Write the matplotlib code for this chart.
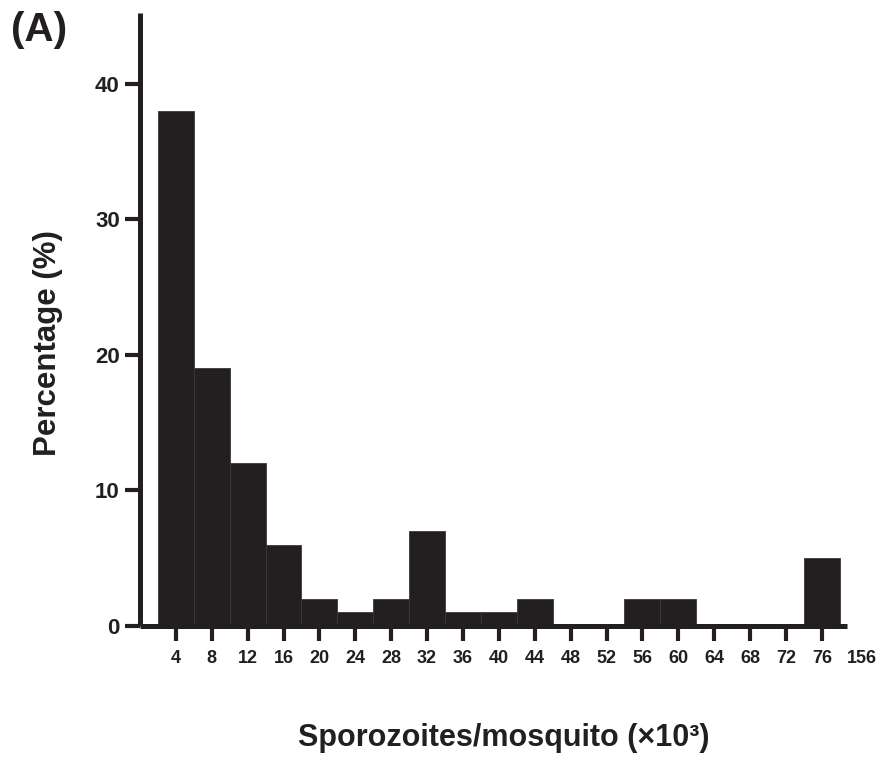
import matplotlib
matplotlib.use("Agg")
import matplotlib.pyplot as plt
import matplotlib.transforms as mtransforms
import numpy as np

plt.rcParams['font.family'] = ['Liberation Sans', 'DejaVu Sans']
plt.rcParams['font.weight'] = 'bold'

categories = ["4", "8", "12", "16", "20", "24", "28", "32", "36", "40",
              "44", "48", "52", "56", "60", "64", "68", "72", "76"]
percentages = [38, 19, 12, 6, 2, 1, 2, 7, 1, 1,
               2, 0, 0, 2, 2, 0, 0, 0, 5]
extra_label = "156"
yticks = [0, 10, 20, 30, 40]

ink = '#231f20'

fig = plt.figure(figsize=(8.78, 7.6), dpi=100)
ax = fig.add_axes([140/878, 1 - 626/760, (847 - 140)/878, (626 - 13)/760])

x = np.arange(len(categories))
ax.bar(x, percentages, width=1.0, color=ink, edgecolor='#3b3738', linewidth=0.6, zorder=2)

ax.set_xlim(-1, 18.7)
ax.set_ylim(0, 45.2)

for s in ['top', 'right']:
    ax.spines[s].set_visible(False)
for s in ['left', 'bottom']:
    ax.spines[s].set_linewidth(3.6)
    ax.spines[s].set_color(ink)
    ax.spines[s].set_capstyle('butt')

ax.set_xticks(x)
ax.set_xticklabels(categories)
ax.set_yticks(yticks)
ax.set_yticklabels([str(v) for v in yticks])
ax.tick_params(axis='both', length=11, width=3, color=ink, labelcolor=ink,
               direction='out')
ax.tick_params(axis='x', pad=6.5, labelsize=13)
ax.tick_params(axis='y', pad=3.5, labelsize=16)
for lab in ax.get_xticklabels() + ax.get_yticklabels():
    lab.set_fontweight('bold')

offset = mtransforms.ScaledTranslation(0, -(11 + 6.5) / 72, fig.dpi_scale_trans)
ax.text(1.0 + 30/707, 0, extra_label, transform=ax.transAxes + offset,
        ha='right', va='top', fontsize=13, fontweight='bold', color=ink,
        clip_on=False)

fig.text(48/878, 1 - 343/760, "Percentage (%)", rotation=90, ha='center', va='center',
         fontsize=22.5, fontweight='bold', color=ink)
fig.text(504/878, 1 - 738/760, "Sporozoites/mosquito (×10³)", ha='center', va='center',
         fontsize=22, fontweight='bold', color=ink)
fig.text(11/878, 1 - 30/760, "(A)", ha='left', va='center',
         fontsize=29, fontweight='bold', color=ink)

fig.savefig("out.png", dpi=100)
